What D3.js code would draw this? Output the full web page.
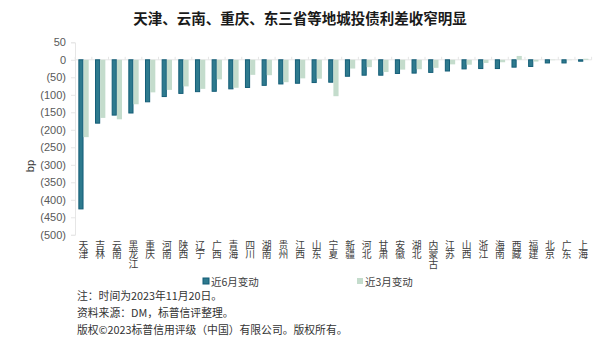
<!DOCTYPE html>
<html><head><meta charset="utf-8">
<script src="https://cdn.jsdelivr.net/npm/d3@7/dist/d3.min.js"></script>
<style>body{margin:0;background:#fff;} svg{display:block;}</style>
</head><body>
<script>
const categories = ["天津","吉林","云南","黑龙江","重庆","河南","陕西","辽宁","广西","青海","四川","湖南","贵州","江西","山东","宁夏","新疆","河北","甘肃","安徽","湖北","内蒙古","江苏","山西","浙江","海南","西藏","福建","北京","广东","上海"];
const change6m = [-426,-181,-158,-152,-120,-105,-96,-91,-90,-83,-79,-73,-69,-67,-65,-64,-47,-44,-44,-39,-38,-36,-32,-26,-25,-25,-21,-19,-9,-9,-4];
const change3m = [-221,-166,-170,-127,-93,-86,-76,-83,-56,-80,-43,-44,-64,-53,-54,-104,-25,-21,-35,-28,-27,-23,-13,-14,-9,-7,11,-5,-1,-1,3];
const yTicks = [50,0,-50,-100,-150,-200,-250,-300,-350,-400,-450,-500];
const seriesNames = ["近6月变动","近3月变动"];
const colors = ["#2e7a8e","#c4dccc"];
const strokes = ["#135d77","#c4dccc"];

const W=600,H=341;
const svg=d3.select("body").append("svg").attr("width",W).attr("height",H);
const font="'Noto Sans CJK SC','Noto Sans',sans-serif";

svg.append("text").attr("x",300).attr("y",24).attr("text-anchor","middle")
  .attr("font-family",font).attr("font-weight","bold").attr("font-size",14.5).attr("fill","#1a1a1a")
  .text("天津、云南、重庆、东三省等地城投债利差收窄明显");

const x=d3.scaleBand().domain(categories).range([75.2,591.6]).paddingInner(0.38).paddingOuter(0.19);
const y=d3.scaleLinear().domain([-500,50]).range([234.8,42.3]);
const xs=d3.scaleBand().domain([0,1]).range([0,x.bandwidth()]);

// y axis
const yAxis=d3.axisLeft(y).tickValues(yTicks).tickSize(4)
  .tickFormat(d=>d<0?`(${-d})`:`${d}`);
const gy=svg.append("g").attr("transform","translate(75,0)").call(yAxis);
gy.select(".domain").attr("stroke","#e6e6e6");
gy.selectAll(".tick line").attr("stroke","#e6e6e6");
gy.selectAll("text").attr("font-family","'Liberation Sans',Arial,sans-serif").attr("font-size",11).attr("fill","#595959").attr("dx",-2);

svg.append("text").attr("transform","translate(34,166) rotate(-90)").attr("text-anchor","middle")
  .attr("font-family","'Liberation Sans',Arial,sans-serif").attr("font-size",11).attr("fill","#333").text("bp");

// zero line
svg.append("line").attr("x1",75).attr("x2",591.6).attr("y1",y(0)).attr("y2",y(0)).attr("stroke","#e6e6e6");
// category ticks on zero line
const step=x.step();
categories.forEach((c,i)=>{
  const xx=75.2+step*i;
  svg.append("line").attr("x1",xx).attr("x2",xx).attr("y1",y(0)).attr("y2",y(0)-3).attr("stroke","#e6e6e6");
});
svg.append("line").attr("x1",591.6).attr("x2",591.6).attr("y1",y(0)).attr("y2",y(0)-3).attr("stroke","#e6e6e6");

[change6m,change3m].forEach((vals,s)=>{
  svg.append("g").selectAll("rect").data(vals).join("rect")
    .attr("x",(d,i)=>x(categories[i])+xs(s)+(s===0?0.5:0))
    .attr("width",xs.bandwidth()-(s===0?1:0))
    .attr("y",d=>y(Math.max(0,d)))
    .attr("height",d=>Math.abs(y(d)-y(0)))
    .attr("fill",colors[s])
    .attr("stroke",s===0?strokes[0]:"none").attr("stroke-width",1);
});

// x labels vertical (one text element per category, vertical writing mode)
const gx=svg.append("g");
categories.forEach(c=>{
  const cx=x(c)+x.bandwidth()/2;
  gx.append("text").attr("x",cx).attr("y",240)
    .style("writing-mode","vertical-rl").style("text-orientation","upright")
    .attr("font-family","'Noto Sans CJK SC',sans-serif").attr("font-size",9.8).attr("fill","#404040")
    .text(c);
});

// legend
const leg=[[203,seriesNames[0]],[357,seriesNames[1]]];
leg.forEach(([lx,t],s)=>{
  svg.append("rect").attr("x",lx).attr("y",278).attr("width",6).attr("height",6).attr("fill",colors[s]).attr("stroke",s===0?strokes[0]:"none");
  svg.append("text").attr("x",lx+8).attr("y",285.5).attr("font-family",font).attr("font-size",10.5).attr("fill","#404040").text(t);
});

// notes
const notes=["注：时间为2023年11月20日。","资料来源：DM，标普信评整理。","版权©2023标普信用评级（中国）有限公司。版权所有。"];
notes.forEach((t,i)=>{
  svg.append("text").attr("x",77).attr("y",300+i*17).attr("font-family",font).attr("font-size",10.8).attr("fill","#333").text(t);
});
</script>
</body></html>
